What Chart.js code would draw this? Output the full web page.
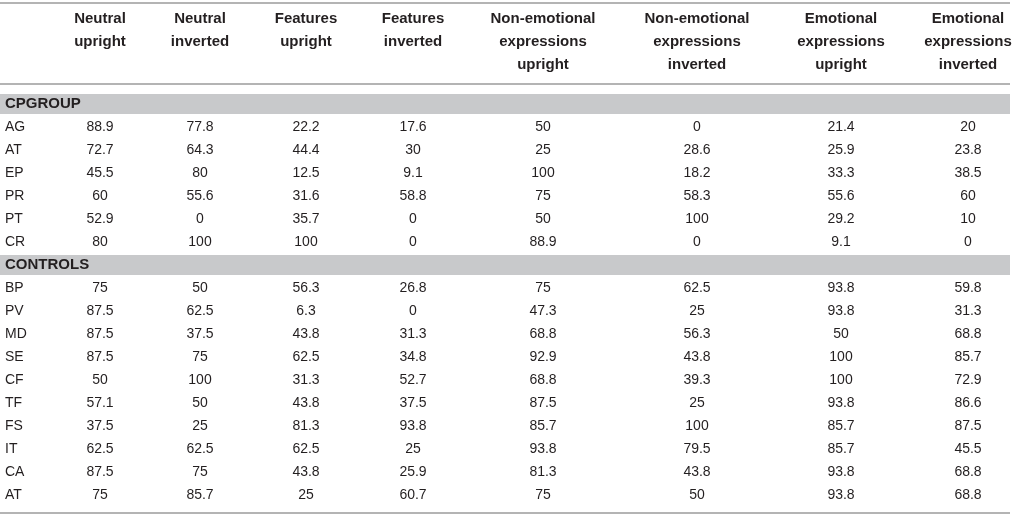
<!DOCTYPE html>
<html>
<head>
<meta charset="utf-8">
<script src="https://cdn.jsdelivr.net/npm/chart.js@4.4.1/dist/chart.umd.min.js"></script>
<style>
  html, body { margin: 0; padding: 0; background: #ffffff; }
  #wrap { width: 1013px; height: 516px; }
</style>
</head>
<body>
<div id="wrap"><canvas id="table"></canvas></div>
<script>
// column headers (one entry per line)
var headers = [
    ["Neutral", "upright"],
    ["Neutral", "inverted"],
    ["Features", "upright"],
    ["Features", "inverted"],
    ["Non-emotional", "expressions", "upright"],
    ["Non-emotional", "expressions", "inverted"],
    ["Emotional", "expressions", "upright"],
    ["Emotional", "expressions", "inverted"]
];

var groups = ["CPGROUP", "CONTROLS"];
var cpRows = ["AG", "AT", "EP", "PR", "PT", "CR"];
var ctrlRows = ["BP", "PV", "MD", "SE", "CF", "TF", "FS", "IT", "CA", "AT"];

// values per column, CPGROUP rows then CONTROLS rows
var neutralUp      = ["88.9", "72.7", "45.5", "60", "52.9", "80",   "75", "87.5", "87.5", "87.5", "50", "57.1", "37.5", "62.5", "87.5", "75"];
var neutralInv     = ["77.8", "64.3", "80", "55.6", "0", "100",     "50", "62.5", "37.5", "75", "100", "50", "25", "62.5", "75", "85.7"];
var featuresUp     = ["22.2", "44.4", "12.5", "31.6", "35.7", "100", "56.3", "6.3", "43.8", "62.5", "31.3", "43.8", "81.3", "62.5", "43.8", "25"];
var featuresInv    = ["17.6", "30", "9.1", "58.8", "0", "0",         "26.8", "0", "31.3", "34.8", "52.7", "37.5", "93.8", "25", "25.9", "60.7"];
var nonEmoUp       = ["50", "25", "100", "75", "50", "88.9",         "75", "47.3", "68.8", "92.9", "68.8", "87.5", "85.7", "93.8", "81.3", "75"];
var nonEmoInv      = ["0", "28.6", "18.2", "58.3", "100", "0",       "62.5", "25", "56.3", "43.8", "39.3", "25", "100", "79.5", "43.8", "50"];
var emoUp          = ["21.4", "25.9", "33.3", "55.6", "29.2", "9.1", "93.8", "93.8", "50", "100", "100", "93.8", "85.7", "85.7", "93.8", "93.8"];
var emoInv         = ["20", "23.8", "38.5", "60", "10", "0",         "59.8", "31.3", "68.8", "85.7", "72.9", "86.6", "87.5", "45.5", "68.8", "68.8"];

var columns = [neutralUp, neutralInv, featuresUp, featuresInv, nonEmoUp, nonEmoInv, emoUp, emoInv];

// layout (in scale units, which map 1:1 to the page)
var colX = [100, 200, 306, 413, 543, 697, 841, 968];
var labelX = 5;
var rowTop = 104, rowStep = 23;
var headTop = 19, headStep = 23;
var ruleY = [3, 84, 513];
var tableRight = 1010;

var textColor = "#231f20";
var bandColor = "#c8c9cb";
var ruleColor = "#b4b4b4";
var fontFamily = "'Liberation Sans', Arial, sans-serif";

// slot of each body row in the grid (group rows take a slot too)
var rowSlots = [];
cpRows.forEach(function (r, i) { rowSlots.push(1 + i); });
ctrlRows.forEach(function (r, i) { rowSlots.push(cpRows.length + 2 + i); });
var groupSlots = [0, cpRows.length + 1];
var rowNames = cpRows.concat(ctrlRows);

var datasets = columns.map(function (vals, c) {
    return {
        label: headers[c].join(" "),
        data: vals.map(function (v, i) {
            return { x: colX[c], y: rowTop + rowStep * rowSlots[i], text: v };
        }),
        pointRadius: 0,
        pointHoverRadius: 0,
        showLine: false
    };
});
// row labels
datasets.push({
    label: "rows",
    data: rowNames.map(function (r, i) {
        return { x: labelX, y: rowTop + rowStep * rowSlots[i], text: r };
    }),
    pointRadius: 0,
    pointHoverRadius: 0,
    isLabel: true
});

var tablePlugin = {
    id: 'tableDraw',
    beforeDatasetsDraw: function (chart) {
        var ctx = chart.ctx;
        var xs = chart.scales.x, ys = chart.scales.y;
        var x0 = xs.getPixelForValue(0), x1 = xs.getPixelForValue(tableRight);
        ctx.save();
        // group bands
        ctx.fillStyle = bandColor;
        groupSlots.forEach(function (s) {
            var yc = rowTop + rowStep * s;
            var a = ys.getPixelForValue(yc - 10), b = ys.getPixelForValue(yc + 10);
            ctx.fillRect(x0, a, x1 - x0, b - a);
        });
        // rules
        ctx.strokeStyle = ruleColor;
        ctx.lineWidth = 2;
        ruleY.forEach(function (v) {
            var y = ys.getPixelForValue(v);
            ctx.beginPath();
            ctx.moveTo(x0, y);
            ctx.lineTo(x1, y);
            ctx.stroke();
        });
        ctx.restore();
    },
    afterDatasetsDraw: function (chart) {
        var ctx = chart.ctx;
        var xs = chart.scales.x, ys = chart.scales.y;
        ctx.save();
        ctx.fillStyle = textColor;
        ctx.textBaseline = 'middle';

        // header
        ctx.font = "bold 15px " + fontFamily;
        ctx.textAlign = 'center';
        headers.forEach(function (lines, c) {
            lines.forEach(function (t, k) {
                ctx.fillText(t, xs.getPixelForValue(colX[c]), ys.getPixelForValue(headTop + headStep * k));
            });
        });

        // group titles
        ctx.textAlign = 'left';
        groups.forEach(function (g, k) {
            ctx.fillText(g, xs.getPixelForValue(labelX), ys.getPixelForValue(rowTop + rowStep * groupSlots[k]));
        });

        // cells
        ctx.font = "14px " + fontFamily;
        chart.data.datasets.forEach(function (ds, d) {
            var meta = chart.getDatasetMeta(d);
            ctx.textAlign = ds.isLabel ? 'left' : 'center';
            meta.data.forEach(function (pt, i) {
                ctx.fillText(ds.data[i].text, pt.x, pt.y);
            });
        });
        ctx.restore();
    }
};

var chart = new Chart(document.getElementById('table').getContext('2d'), {
    type: 'scatter',
    data: { datasets: datasets },
    options: {
        responsive: true,
        maintainAspectRatio: false,
        animation: false,
        layout: { padding: 0 },
        events: [],
        scales: {
            x: { type: 'linear', min: 0, max: 1013, display: false },
            y: { type: 'linear', min: 0, max: 516, reverse: true, display: false }
        },
        plugins: {
            legend: { display: false },
            tooltip: { enabled: false }
        }
    },
    plugins: [tablePlugin]
});
</script>
</body>
</html>
